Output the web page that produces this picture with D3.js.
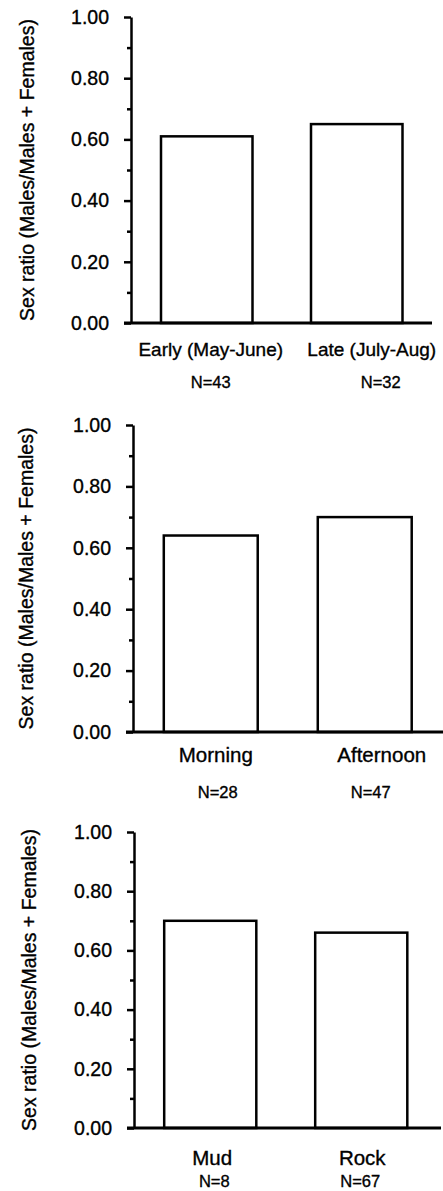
<!DOCTYPE html>
<html>
<head>
<meta charset="utf-8">
<script src="https://d3js.org/d3.v7.min.js"></script>
<style>
body { margin: 0; background: #fff; }
svg { display: block; }
text { font-family: "Liberation Sans", Arial, Helvetica, sans-serif; fill: #000; stroke: #000; stroke-width: 0.35px; }
</style>
</head>
<body>
<svg id="chart" width="443" height="1191"></svg>
<script>
// # DATA

// season panel
var seasonLabels = ["Early (May-June)", "Late (July-Aug)"];
var seasonRatios = [0.61, 0.65];
var seasonN = ["N=43", "N=32"];

// time of day panel
var timeLabels = ["Morning", "Afternoon"];
var timeRatios = [0.64, 0.70];
var timeN = ["N=28", "N=47"];

// substrate panel
var substrateLabels = ["Mud", "Rock"];
var substrateRatios = [0.70, 0.66];
var substrateN = ["N=8", "N=67"];

var majorTicks = [0, 0.2, 0.4, 0.6, 0.8, 1.0];
var minorTicks = [0.1, 0.3, 0.5, 0.7, 0.9];
var yTitle = "Sex ratio (Males/Males + Females)";

// # LAYOUT (pixels)
var panels = [
    {labels: seasonLabels, values: seasonRatios, counts: seasonN,
     top: 17, bottom: 323, left: 131, right: 432.5, baseEnd: 432,
     titleX: 33.5, labelY: 356, countY: 387.5, labelSize: 19,
     labelDx: [4, 15], countDx: [4, 24]},
    {labels: timeLabels, values: timeRatios, counts: timeN,
     top: 425, bottom: 732, left: 133, right: 442.5, baseEnd: 443,
     titleX: 33, labelY: 762, countY: 798, labelSize: 20.5,
     labelDx: [5, 17], countDx: [7, 6]},
    {labels: substrateLabels, values: substrateRatios, counts: substrateN,
     top: 832, bottom: 1128, left: 134, right: 437.5, baseEnd: 441,
     titleX: 36, labelY: 1165, countY: 1187, labelSize: 20.5,
     labelDx: [2, 1], countDx: [4, -1]}
];

// # INIT
init();

// # FUNCTIONS

function init(){
    var svg = d3.select("#chart");
    svg.append("rect")
        .attr("width", 443)
        .attr("height", 1191)
        .attr("fill", "white");
    panels.forEach(function(p){ drawPanel(svg, p); });
    return 0;
}

function drawPanel(svg, p){
    var g = svg.append("g");

    var y = d3.scaleLinear()
        .domain([0, 1])
        .range([p.bottom, p.top]);

    var x = d3.scaleBand()
        .domain(p.labels)
        .range([p.left, p.right])
        .paddingInner(0.39)
        .paddingOuter(0.2);

    // bars (white with black outline)
    g.selectAll("rect.bar")
        .data(p.labels)
        .enter()
        .append("rect")
        .attr("class", "bar")
        .attr("x", function(d){ return x(d); })
        .attr("y", function(d, i){ return y(p.values[i]); })
        .attr("width", x.bandwidth())
        .attr("height", function(d, i){ return y(0) - y(p.values[i]); })
        .attr("fill", "white")
        .attr("stroke", "black")
        .attr("stroke-width", 2.5);

    // y axis: major ticks with labels
    var axis = g.append("g")
        .attr("transform", "translate(" + p.left + ",0)")
        .call(d3.axisLeft(y)
            .tickValues(majorTicks)
            .tickFormat(d3.format(".2f"))
            .tickSize(7)
            .tickSizeOuter(0)
            .tickPadding(15));
    axis.select(".domain").attr("stroke", "black").attr("stroke-width", 2.5);
    axis.selectAll(".tick line").attr("stroke", "black").attr("stroke-width", 2.5);
    axis.selectAll(".tick text")
        .attr("font-family", "Liberation Sans, Arial, sans-serif")
        .attr("font-size", 19.5)
        .attr("fill", "black");

    // minor ticks
    var minor = g.append("g")
        .attr("transform", "translate(" + p.left + ",0)")
        .call(d3.axisLeft(y)
            .tickValues(minorTicks)
            .tickFormat("")
            .tickSize(4)
            .tickSizeOuter(0));
    minor.select(".domain").remove();
    minor.selectAll(".tick line").attr("stroke", "black").attr("stroke-width", 2.5);

    // x baseline
    g.append("line")
        .attr("x1", p.left - 7)
        .attr("x2", p.baseEnd)
        .attr("y1", y(0))
        .attr("y2", y(0))
        .attr("stroke", "black")
        .attr("stroke-width", 3);

    // category labels
    g.selectAll("text.cat")
        .data(p.labels)
        .enter()
        .append("text")
        .attr("class", "cat")
        .attr("x", function(d, i){ return x(d) + x.bandwidth() / 2 + p.labelDx[i]; })
        .attr("y", p.labelY)
        .attr("text-anchor", "middle")
        .attr("font-size", p.labelSize)
        .text(function(d){ return d; });

    // sample sizes
    g.selectAll("text.count")
        .data(p.counts)
        .enter()
        .append("text")
        .attr("class", "count")
        .attr("x", function(d, i){ return x(p.labels[i]) + x.bandwidth() / 2 + p.countDx[i]; })
        .attr("y", p.countY)
        .attr("text-anchor", "middle")
        .attr("font-size", 16.5)
        .text(function(d){ return d; });

    // y axis title
    g.append("text")
        .attr("transform", "translate(" + p.titleX + "," + ((p.top + p.bottom) / 2) + ") rotate(-90)")
        .attr("text-anchor", "middle")
        .attr("font-size", 19.5)
        .text(yTitle);
    return 0;
}
</script>
</body>
</html>
